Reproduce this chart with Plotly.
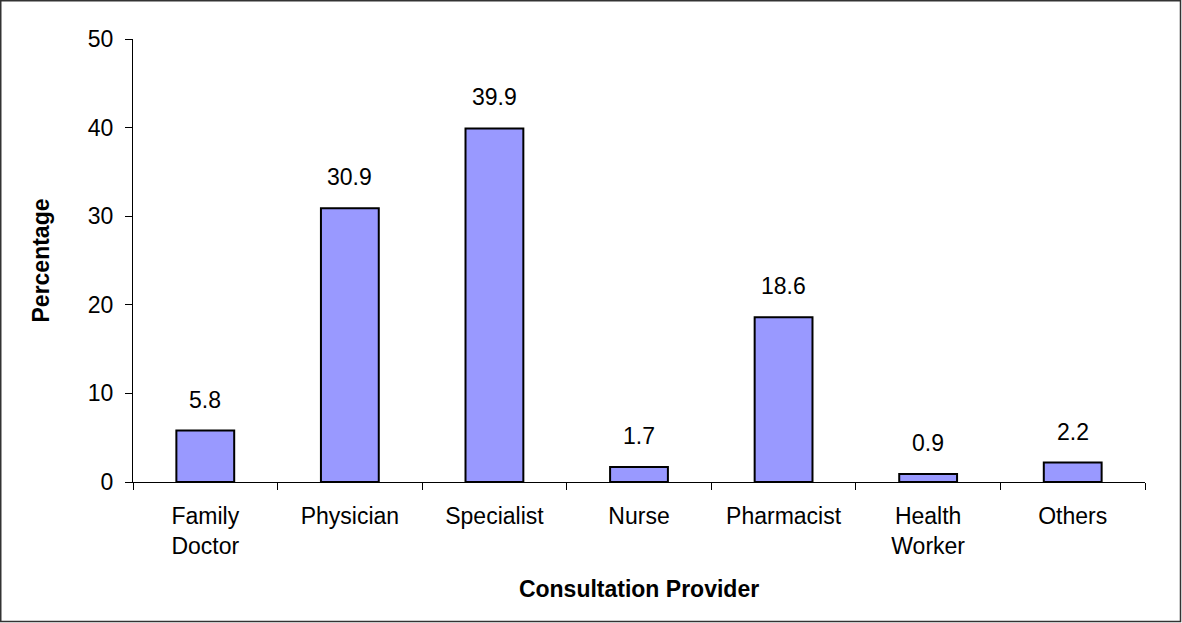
import plotly.graph_objects as go

categories = ["Family<br>Doctor", "Physician", "Specialist", "Nurse", "Pharmacist", "Health<br>Worker", "Others"]
values = [5.8, 30.9, 39.9, 1.7, 18.6, 0.9, 2.2]
y_ticks = [0, 10, 20, 30, 40, 50]

W, H = 1182, 623
ml, mr, mt, mb = 133, 37, 39, 141
pw, ph = W - ml - mr, H - mt - mb
FONT = "Liberation Sans, Arial"

fig = go.Figure()
fig.add_trace(go.Bar(
    x=categories, y=values, width=0.4,
    marker=dict(color="#9999FF", line=dict(color="black", width=2)),
    hoverinfo="x+y",
))

for c, v in zip(categories, values):
    fig.add_annotation(x=c, y=v, text=f"{v:.1f}", showarrow=False,
                       yanchor="bottom", yshift=16,
                       font=dict(family=FONT, size=23, color="black"))

def px2paper_x(px):
    return (px - ml) / pw
def px2paper_y(py):
    return (H - mb - py) / ph

fig.add_shape(type="rect", xref="paper", yref="paper",
              x0=px2paper_x(0.75), x1=px2paper_x(W - 1.5),
              y0=px2paper_y(H - 1.5), y1=px2paper_y(0.75),
              line=dict(color="#333333", width=1.5), layer="below")

fig.update_layout(
    width=W, height=H,
    margin=dict(l=ml, r=mr, t=mt, b=mb),
    paper_bgcolor="white", plot_bgcolor="white",
    showlegend=False,
    font=dict(family=FONT, size=23, color="black"),
)
fig.update_xaxes(
    type="category", range=[-0.5, 6.5],
    showline=True, linecolor="black", linewidth=1,
    ticks="outside", tickson="boundaries", ticklen=7, tickcolor="black",
    ticklabelstandoff=13,
    showgrid=False, zeroline=False,
    tickfont=dict(size=23),
    title=dict(text="<b>Consultation Provider</b>", font=dict(size=23), standoff=23),
)
fig.update_yaxes(
    range=[0, 50], tickvals=y_ticks,
    showline=True, linecolor="black", linewidth=1,
    ticks="outside", ticklen=7, tickcolor="black",
    ticklabelstandoff=7,
    showgrid=False, zeroline=False,
    tickfont=dict(size=23),
    title=dict(text="<b>Percentage</b>", font=dict(size=23), standoff=31),
)

fig.write_html("out.html", config={"displayModeBar": False},
               post_script="document.body.style.margin='0';")
